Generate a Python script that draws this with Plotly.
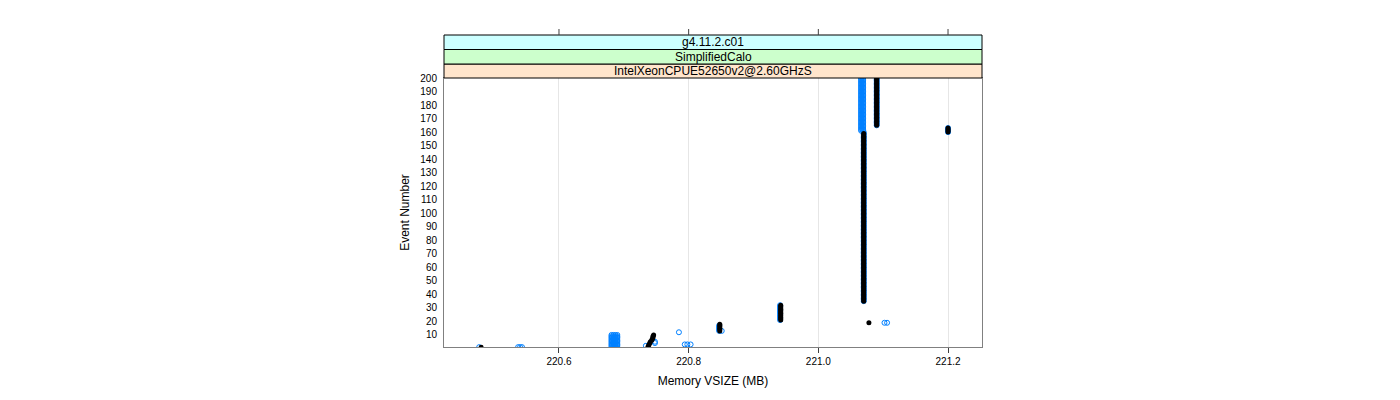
import plotly.graph_objects as go

# ---- data (run-length: first event, last event, memory MB) ----
blue_run_first = [1, 1, 1, 1,
                  1, 1, 1, 1,
                  2, 4, 12, 3, 3, 3,
                  13, 13, 21, 35, 161, 161, 160, 165, 19, 19]
blue_run_last = [1, 1, 1, 1,
                 10, 10, 10, 10,
                 2, 5, 12, 3, 3, 3,
                 17, 13, 32, 160, 200, 200, 163, 200, 19, 19]
blue_run_mem = [220.477, 220.537, 220.540, 220.543,
                220.681, 220.684, 220.687, 220.690,
                220.734, 220.748, 220.785, 220.794, 220.798, 220.803,
                220.847, 220.851, 220.941, 221.070, 221.066, 221.069, 221.200, 221.090, 221.102, 221.106]

black_run_first = [1, 1, 2, 3, 4, 5, 6, 7, 8, 9, 10,
                   13, 19, 21, 35, 160, 165]
black_run_last = [1, 1, 2, 3, 4, 5, 6, 7, 8, 9, 10,
                  18, 19, 32, 159, 163, 200]
black_run_mem = [220.480, 220.737, 220.738, 220.739, 220.740, 220.741, 220.743, 220.744, 220.745, 220.745, 220.746,
                 220.848, 221.078, 220.942, 221.070, 221.200, 221.090]

x_ticks = [220.6, 220.8, 221.0, 221.2]
x_tick_labels = ["220.6", "220.8", "221.0", "221.2"]
y_ticks = list(range(10, 201, 10))
strip_labels = ["g4.11.2.c01", "SimplifiedCalo", "IntelXeonCPUE52650v2@2.60GHzS"]
strip_colors = ["#ccffff", "#ccffcc", "#ffe5cc"]


def expand(firsts, lasts, mems):
    xs, ys = [], []
    for f, l, m in zip(firsts, lasts, mems):
        for e in range(f, l + 1):
            xs.append(m)
            ys.append(e)
    return xs, ys


bx, by = expand(blue_run_first, blue_run_last, blue_run_mem)
kx, ky = expand(black_run_first, black_run_last, black_run_mem)

FONT = "Liberation Sans, Arial, Helvetica, sans-serif"

fig = go.Figure()
fig.add_trace(go.Scatter(x=bx, y=by, mode="markers",
                         marker=dict(symbol="circle-open", size=5, color="#0080ff",
                                     line=dict(width=1, color="#0080ff")),
                         showlegend=False, hoverinfo="skip"))
fig.add_trace(go.Scatter(x=kx, y=ky, mode="markers",
                         marker=dict(symbol="circle", size=5, color="black",
                                     line=dict(width=0)),
                         showlegend=False, hoverinfo="skip"))

PLOT_H = 269.0
strip_edges = [1.0, 1.0 + 14 / PLOT_H, 1.0 + 28.5 / PLOT_H, 1.0 + 43 / PLOT_H]
# strip order bottom->top: index 2 (peach) bottom, index 0 top
shapes = []
annotations = []
for i, (lab, col) in enumerate(zip(reversed(strip_labels), reversed(strip_colors))):
    y0, y1 = strip_edges[i], strip_edges[i + 1]
    shapes.append(dict(type="rect", xref="paper", yref="paper", x0=0, x1=1, y0=y0, y1=y1,
                       fillcolor=col, line=dict(color="black", width=1), layer="above"))
    annotations.append(dict(xref="paper", yref="paper", x=0.5, y=(y0 + y1) / 2, text=lab,
                            showarrow=False, font=dict(family=FONT, size=12, color="black"),
                            xanchor="center", yanchor="middle"))
for t in x_ticks:
    shapes.append(dict(type="line", xref="x", yref="paper", x0=t, x1=t,
                       y0=strip_edges[3], y1=strip_edges[3] + 6 / PLOT_H,
                       line=dict(color="#404040", width=1)))

fig.update_layout(
    width=1400, height=400,
    margin=dict(l=444, r=418, t=78, b=53),
    paper_bgcolor="white", plot_bgcolor="white",
    font=dict(family=FONT, size=10, color="black"),
    shapes=shapes, annotations=annotations,
    xaxis=dict(range=[220.4227, 221.2524], tickvals=x_ticks, ticktext=x_tick_labels,
               ticks="outside", ticklen=5, tickcolor="#404040", tickwidth=1,
               showgrid=True, gridcolor="#e6e6e6", gridwidth=1,
               showline=True, linecolor="#808080", linewidth=1, mirror=True,
               zeroline=False, tickfont=dict(size=10),
               title=dict(text="Memory VSIZE (MB)", font=dict(size=12), standoff=10)),
    yaxis=dict(range=[1.1, 200], tickvals=y_ticks, ticktext=[str(v) for v in y_ticks],
               ticks="outside", ticklen=4, tickcolor="rgba(0,0,0,0)",
               showgrid=False, showline=True, linecolor="#808080", linewidth=1, mirror=True,
               zeroline=False, tickfont=dict(size=10),
               title=dict(text="Event Number", font=dict(size=12), standoff=8)),
)

fig.write_html("out.html")
